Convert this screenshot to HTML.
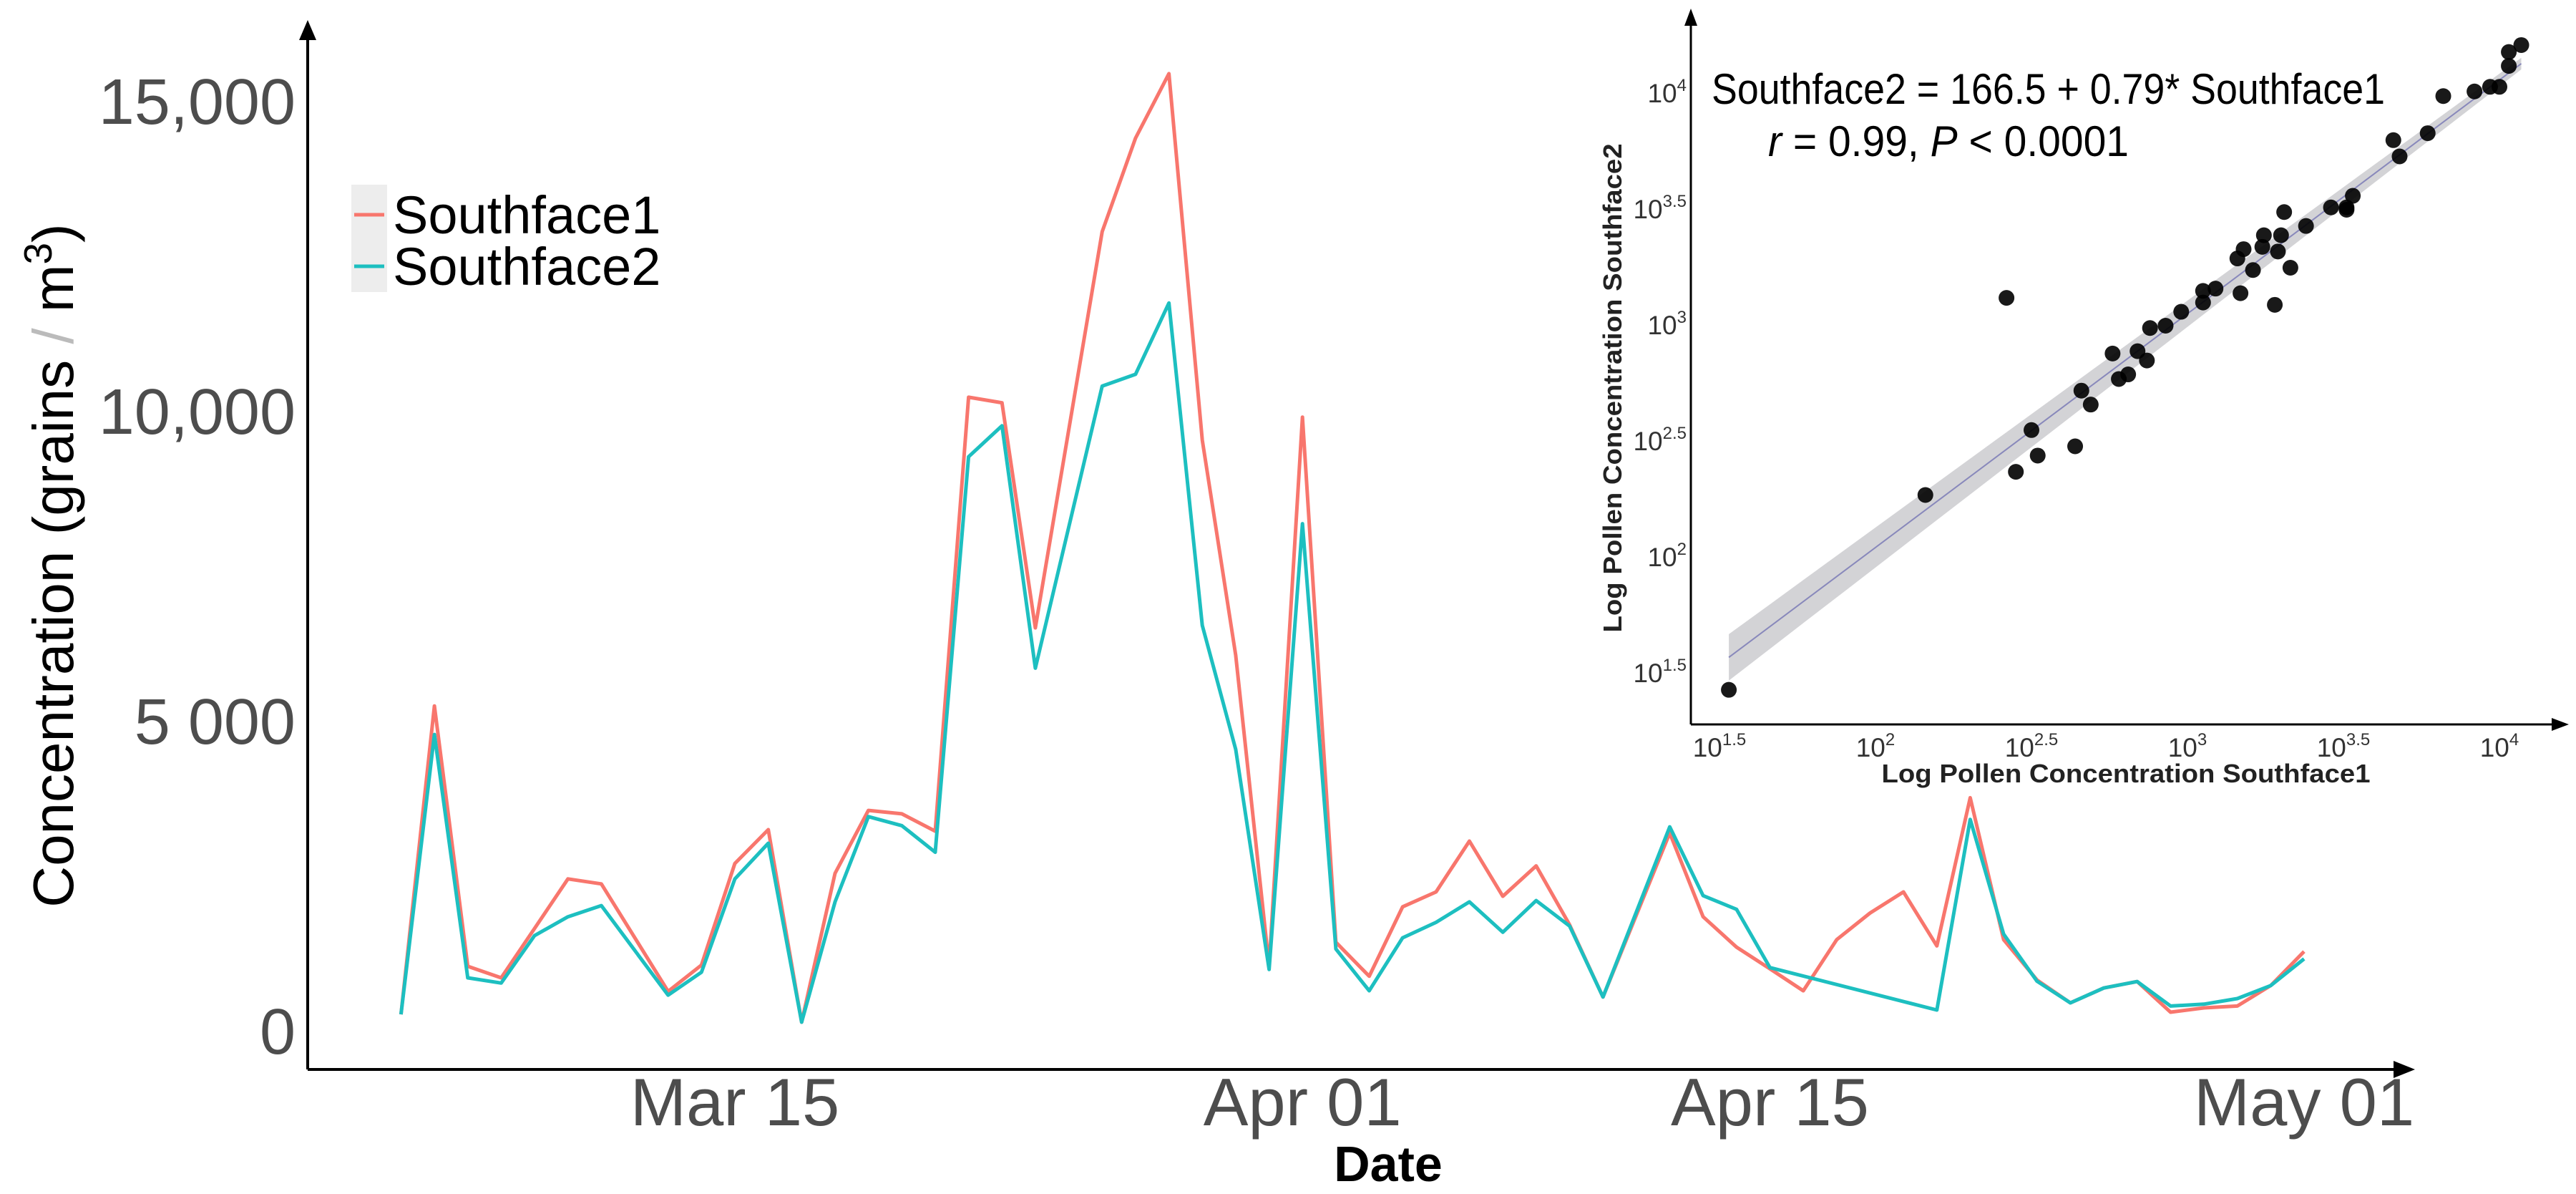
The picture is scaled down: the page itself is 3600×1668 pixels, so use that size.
<!DOCTYPE html>
<html><head><meta charset="utf-8">
<style>
html,body{margin:0;padding:0;background:#fff;}
svg{display:block;font-family:"Liberation Sans",Arial,sans-serif;}
</style></head>
<body>
<svg id="chart" width="3600" height="1668" viewBox="0 0 3600 1668" xmlns="http://www.w3.org/2000/svg">
<g id="main"></g>
<g id="inset"></g>
</svg>
<script>
// ---- main time series data (days since Mar 15) ----
const days = [-10,-9,-8,-7,-6,-5,-4,-2,-1,0,1,2,3,4,5,6,7,8,9,11,12,13,14,15,16,17,18,19,20,21,22,23,24,25,26,28,29,30,31,32,33,34,35,36,37,38,39,40,41,42,43,44,45,46,47];
const southface1 = [265,5240,1040,855,1650,2450,2370,635,1060,2700,3245,140,2540,3555,3500,3220,10220,10130,6500,12890,14400,15440,9530,6060,1040,9900,1430,880,2000,2240,3060,2170,2660,1710,545,3190,1840,1350,1000,645,1470,1900,2240,1370,3760,1470,820,450,690,795,300,370,400,730,1280];
const southface2 = [265,4780,855,770,1535,1840,2020,575,945,2450,3025,140,2080,3455,3310,2880,9260,9760,5850,10400,10590,11740,6540,4540,990,8180,1320,645,1500,1750,2080,1590,2100,1690,545,3290,2180,1960,1020,null,null,null,null,335,3410,1560,800,450,690,795,400,430,520,730,1160];
const yTicks = [0,5000,10000,15000];
const yTickLabels = ["0","5 000","10,000","15,000"];
const xTicks = [0,17,31,47];
const xTickLabels = ["Mar 15","Apr 01","Apr 15","May 01"];

// ---- inset scatter data (log10 values) ----
const logS1 = [1.53,2.16,2.42,2.45,2.50,2.52,2.64,2.66,2.69,2.76,2.78,2.81,2.84,2.87,2.88,2.93,2.98,3.05,3.05,3.09,3.17,3.16,3.18,3.21,3.24,3.245,3.28,3.29,3.30,3.31,3.33,3.38,3.46,3.51,3.53,3.51,3.66,3.68,3.77,3.82,3.92,3.97,4.00,4.03,4.03,4.07];
const logS2 = [1.43,2.27,3.12,2.37,2.55,2.44,2.48,2.72,2.66,2.88,2.77,2.79,2.89,2.85,2.99,3.00,3.06,3.10,3.15,3.16,3.14,3.29,3.33,3.24,3.34,3.39,3.09,3.32,3.39,3.49,3.25,3.43,3.51,3.51,3.56,3.50,3.80,3.73,3.83,3.99,4.01,4.03,4.03,4.12,4.18,4.21];
const fitStart = [1.53,1.57];
const fitEnd = [4.07,4.13];
const logTicks = [1.5,2,2.5,3,3.5,4];
const logTickExp = ["1.5","2","2.5","3","3.5","4"];

const NS = "http://www.w3.org/2000/svg";
function mk(parent, tag, attrs, text){
  const e = document.createElementNS(NS, tag);
  for (const k in attrs) e.setAttribute(k, attrs[k]);
  if (text !== undefined) e.textContent = text;
  parent.appendChild(e);
  return e;
}
// main axes
const xS = d => 1027 + d * 46.66;
const yS = v => 1440 - v * 0.0866;
const main = document.getElementById('main');

let ax = mk(main,'line',{x1:430,y1:1494,x2:3350,y2:1494,stroke:'#000','stroke-width':4});


let arr = mk(main,'path',{d:'M3375 1494 L3345 1482 L3345 1506 Z',fill:'#000'});


let ay = mk(main,'line',{x1:430,y1:1494,x2:430,y2:50,stroke:'#000','stroke-width':4});


let arr2 = mk(main,'path',{d:'M430 28 L418 56 L442 56 Z',fill:'#000'});



yTicks.forEach((v,i)=>{
  const t = mk(main,'text',{x:413,y:yS(v)+32,'text-anchor':'end','font-size':90,fill:'#4d4d4d'},yTickLabels[i]);
  
  
});
xTicks.forEach((d,i)=>{
  const t = mk(main,'text',{x:xS(d),y:1572,'text-anchor':'middle','font-size':94,fill:'#4d4d4d'},xTickLabels[i]);
  
  
});
let xt = mk(main,'text',{x:1940,y:1650,'text-anchor':'middle','font-size':70,'font-weight':'bold',fill:'#000'},'Date');


let yt = mk(main,'text',{x:0,y:0,'text-anchor':'middle','font-size':80,fill:'#000',transform:'translate(102,790) rotate(-90)'});


yt.innerHTML = 'Concentration (grains <tspan fill="#bbb">/</tspan> m<tspan dy="-30" font-size="55">3</tspan><tspan dy="30">)</tspan>';

function linePath(vals, color, name){
  const pts = [];
  days.forEach((d,i)=>{ if (vals[i] !== null) pts.push(xS(d).toFixed(1)+','+yS(vals[i]).toFixed(1)); });
  const p = mk(main,'polyline',{points:pts.join(' '),fill:'none',stroke:color,'stroke-width':5,'stroke-linejoin':'round'});
  
  
}
linePath(southface1,'#F8766D','southface1-line');
linePath(southface2,'#1DBFC0','southface2-line');

// legend
let lg = mk(main,'rect',{x:491,y:258,width:50,height:150,fill:'#ededed'});


let l1 = mk(main,'line',{x1:495,y1:300,x2:537,y2:300,stroke:'#F8766D','stroke-width':5});


let l2 = mk(main,'line',{x1:495,y1:372,x2:537,y2:372,stroke:'#1DBFC0','stroke-width':5});


let lt1 = mk(main,'text',{x:549,y:326,'font-size':74,fill:'#000'},'Southface1');


let lt2 = mk(main,'text',{x:549,y:398,'font-size':74,fill:'#000'},'Southface2');



// ---- inset ----
const inset = document.getElementById('inset');
const ix = L => 2403 + (L - 1.5) * 436;
const iy = L => 941 - (L - 1.5) * 324;

const bandHalf = t => 0.10 - 0.075 * t;
const N = 20, up = [], lo = [];
for (let k=0;k<=N;k++){
  const t = k/N;
  const lx = fitStart[0] + (fitEnd[0]-fitStart[0])*t;
  const ly = fitStart[1] + (fitEnd[1]-fitStart[1])*t;
  up.push(ix(lx).toFixed(1)+','+iy(ly+bandHalf(t)).toFixed(1));
  lo.unshift(ix(lx).toFixed(1)+','+iy(ly-bandHalf(t)).toFixed(1));
}
let band = mk(inset,'polygon',{points:up.concat(lo).join(' '),fill:'#c8c8cc','fill-opacity':0.8});


let fl = mk(inset,'line',{x1:ix(fitStart[0]),y1:iy(fitStart[1]),x2:ix(fitEnd[0]),y2:iy(fitEnd[1]),stroke:'#8888bb','stroke-width':2});



logS1.forEach((v,i)=>{
  const c = mk(inset,'circle',{cx:ix(v),cy:iy(logS2[i]),r:11,fill:'#000','fill-opacity':0.9});
  
  
});

let iax = mk(inset,'line',{x1:2363,y1:1012,x2:3570,y2:1012,stroke:'#000','stroke-width':3});


let iarr = mk(inset,'path',{d:'M3590 1012 L3566 1003 L3566 1021 Z',fill:'#000'});


let iay = mk(inset,'line',{x1:2363,y1:1012,x2:2363,y2:30,stroke:'#000','stroke-width':3});


let iarr2 = mk(inset,'path',{d:'M2363 12 L2354 36 L2372 36 Z',fill:'#000'});



logTicks.forEach((L,i)=>{
  const tx = mk(inset,'text',{x:ix(L),y:1057,'text-anchor':'middle','font-size':37,fill:'#333'});
  
  
  tx.innerHTML = '10<tspan dy="-16" font-size="24">'+logTickExp[i]+'</tspan>';
  const ty = mk(inset,'text',{x:2357,y:iy(L)+12,'text-anchor':'end','font-size':37,fill:'#333'});
  
  
  ty.innerHTML = '10<tspan dy="-16" font-size="24">'+logTickExp[i]+'</tspan>';
});

let ixt = mk(inset,'text',{x:2971,y:1093,'text-anchor':'middle','font-size':36,'font-weight':'bold',fill:'#222',textLength:683,lengthAdjust:'spacingAndGlyphs'},'Log Pollen Concentration Southface1');


let iyt = mk(inset,'text',{x:0,y:0,'text-anchor':'middle','font-size':36,'font-weight':'bold',fill:'#222',textLength:683,lengthAdjust:'spacingAndGlyphs',transform:'translate(2266,542) rotate(-90)'},'Log Pollen Concentration Southface2');



let eq = mk(inset,'text',{x:2392,y:145,'font-size':60,fill:'#000',textLength:941,lengthAdjust:'spacingAndGlyphs'},'Southface2 = 166.5 + 0.79* Southface1');


let st = mk(inset,'text',{x:2471,y:218,'font-size':60,fill:'#000',textLength:504,lengthAdjust:'spacingAndGlyphs'});


st.innerHTML = '<tspan font-style="italic">r</tspan> = 0.99, <tspan font-style="italic">P</tspan> &lt; 0.0001';
</script>
</body></html>
